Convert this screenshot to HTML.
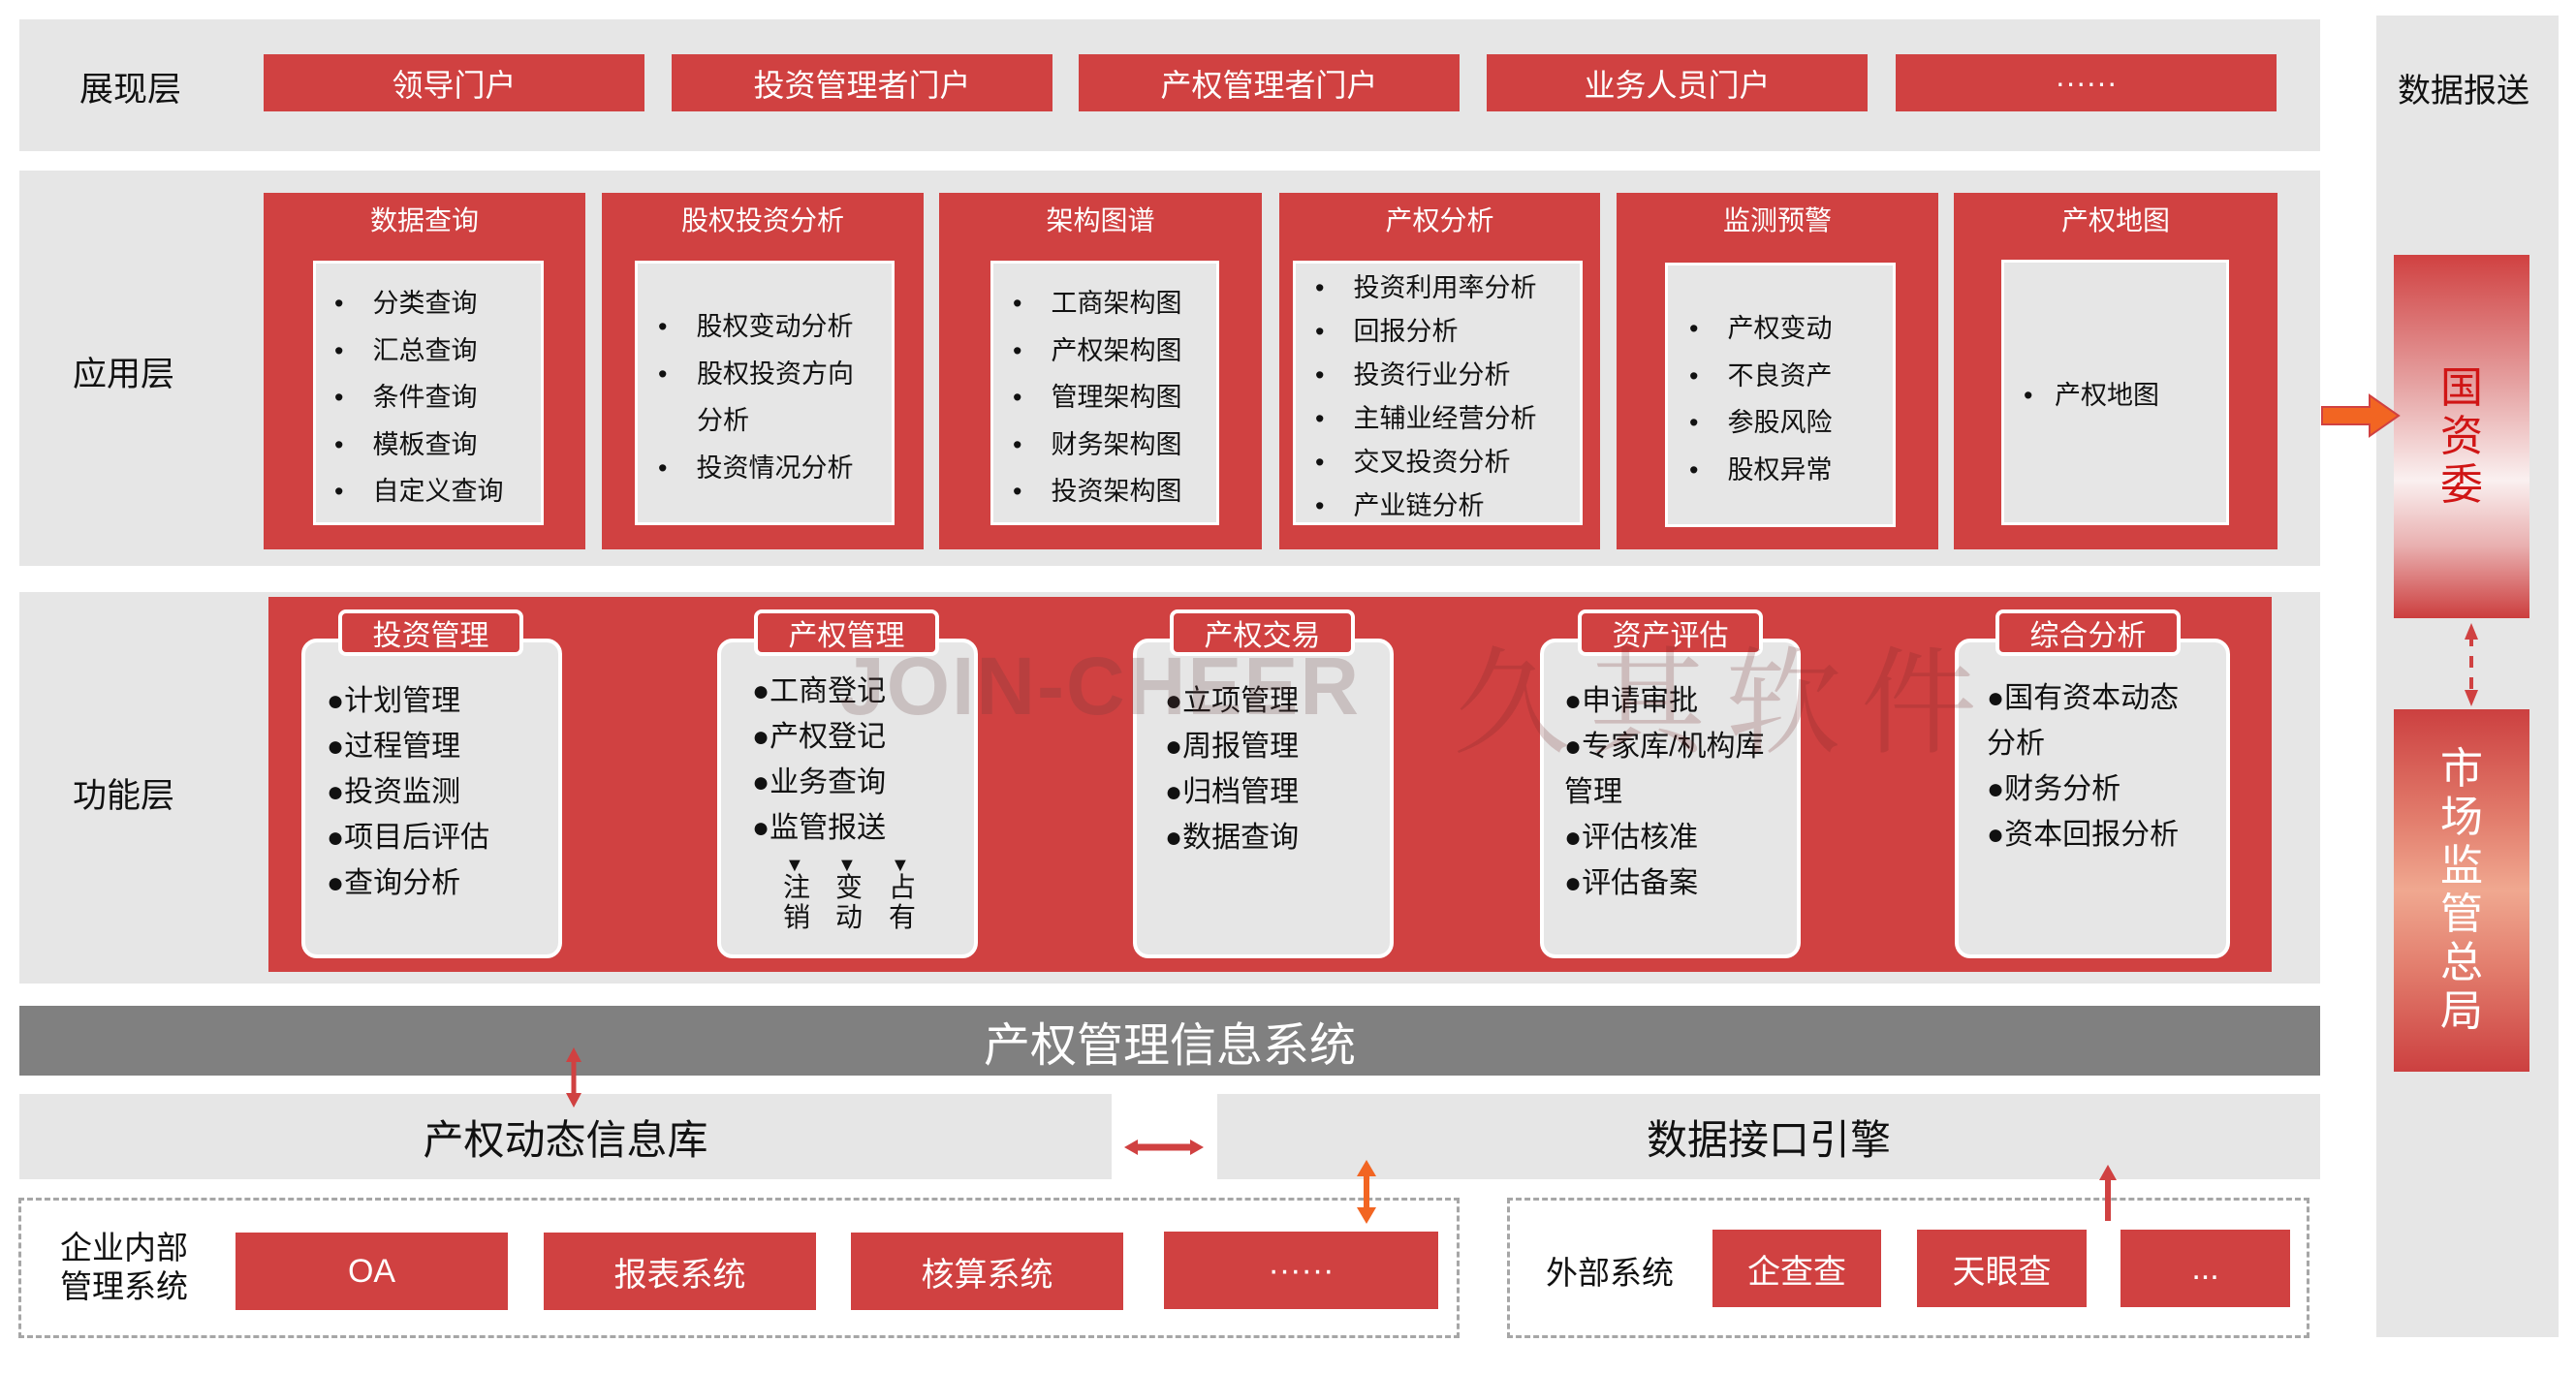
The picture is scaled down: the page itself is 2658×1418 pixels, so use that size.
<!DOCTYPE html>
<html><head><meta charset="utf-8">
<style>
*{margin:0;padding:0;box-sizing:border-box}
body{width:2658px;height:1418px;background:#fff;position:relative;overflow:hidden;font-family:"Liberation Sans","Noto Sans CJK SC",sans-serif;color:#111}
.a{position:absolute}
.g{background:#e6e6e6}
.r{background:#d04141}
.c{display:flex;align-items:center;justify-content:center}
.pt{color:#fff;font-size:32px;top:56px;height:59px;width:393px}
.lab{font-size:35px;color:#111}
.in{background:#e6e6e6;border:3px solid #fff}
.li{font-size:27px;line-height:48.5px;white-space:nowrap}
.li span{display:inline-block}
.card{background:#e6e6e6;border:4px solid #fff;border-radius:16px;top:659px;height:330px;width:269px}
.tab{background:#d04141;border:4px solid #fff;border-radius:8px;top:629px;height:48px;width:191px;color:#fff;font-size:30px}
.fi{font-size:30px;line-height:47px;white-space:nowrap;color:#111}
.sb{color:#fff;font-size:34px;height:80px}
</style></head><body>

<!-- 展现层 -->
<div class="a g" style="left:20px;top:20px;width:2374px;height:136px"></div>
<div class="a lab" style="left:82px;top:64px">展现层</div>
<div class="a r c pt" style="left:272px">领导门户</div>
<div class="a r c pt" style="left:693px">投资管理者门户</div>
<div class="a r c pt" style="left:1113px">产权管理者门户</div>
<div class="a r c pt" style="left:1534px">业务人员门户</div>
<div class="a r c pt" style="left:1956px">······</div>

<!-- 应用层 -->
<div class="a g" style="left:20px;top:176px;width:2374px;height:408px"></div>
<div class="a lab" style="left:75px;top:358px">应用层</div>

<div class="a r" style="left:272px;top:199px;width:332px;height:368px"></div>
<div class="a" style="left:272px;top:206px;width:332px;text-align:center;color:#fff;font-size:28px">数据查询</div>
<div class="a in" style="left:323px;top:269px;width:238px;height:273px"></div>
<div class="a li" style="left:345px;top:289px">•&nbsp;&nbsp;&nbsp;&nbsp;分类查询<br>•&nbsp;&nbsp;&nbsp;&nbsp;汇总查询<br>•&nbsp;&nbsp;&nbsp;&nbsp;条件查询<br>•&nbsp;&nbsp;&nbsp;&nbsp;模板查询<br>•&nbsp;&nbsp;&nbsp;&nbsp;自定义查询</div>

<div class="a r" style="left:621px;top:199px;width:332px;height:368px"></div>
<div class="a" style="left:621px;top:206px;width:332px;text-align:center;color:#fff;font-size:28px">股权投资分析</div>
<div class="a in" style="left:655px;top:269px;width:268px;height:273px"></div>
<div class="a li" style="left:679px;top:313px">•&nbsp;&nbsp;&nbsp;&nbsp;股权变动分析<br><span style="width:40px"></span>股权投资方向<br><span style="width:40px"></span>分析<br>•&nbsp;&nbsp;&nbsp;&nbsp;投资情况分析</div>
<div class="a li" style="left:679px;top:362px">•</div>

<div class="a r" style="left:969px;top:199px;width:333px;height:368px"></div>
<div class="a" style="left:969px;top:206px;width:333px;text-align:center;color:#fff;font-size:28px">架构图谱</div>
<div class="a in" style="left:1022px;top:269px;width:236px;height:273px"></div>
<div class="a li" style="left:1045px;top:289px">•&nbsp;&nbsp;&nbsp;&nbsp;工商架构图<br>•&nbsp;&nbsp;&nbsp;&nbsp;产权架构图<br>•&nbsp;&nbsp;&nbsp;&nbsp;管理架构图<br>•&nbsp;&nbsp;&nbsp;&nbsp;财务架构图<br>•&nbsp;&nbsp;&nbsp;&nbsp;投资架构图</div>

<div class="a r" style="left:1320px;top:199px;width:331px;height:368px"></div>
<div class="a" style="left:1320px;top:206px;width:331px;text-align:center;color:#fff;font-size:28px">产权分析</div>
<div class="a in" style="left:1334px;top:269px;width:299px;height:273px"></div>
<div class="a li" style="left:1357px;top:275px;line-height:45px">•&nbsp;&nbsp;&nbsp;&nbsp;投资利用率分析<br>•&nbsp;&nbsp;&nbsp;&nbsp;回报分析<br>•&nbsp;&nbsp;&nbsp;&nbsp;投资行业分析<br>•&nbsp;&nbsp;&nbsp;&nbsp;主辅业经营分析<br>•&nbsp;&nbsp;&nbsp;&nbsp;交叉投资分析<br>•&nbsp;&nbsp;&nbsp;&nbsp;产业链分析</div>

<div class="a r" style="left:1668px;top:199px;width:332px;height:368px"></div>
<div class="a" style="left:1668px;top:206px;width:332px;text-align:center;color:#fff;font-size:28px">监测预警</div>
<div class="a in" style="left:1718px;top:271px;width:238px;height:273px"></div>
<div class="a li" style="left:1743px;top:315px">•&nbsp;&nbsp;&nbsp;&nbsp;产权变动<br>•&nbsp;&nbsp;&nbsp;&nbsp;不良资产<br>•&nbsp;&nbsp;&nbsp;&nbsp;参股风险<br>•&nbsp;&nbsp;&nbsp;&nbsp;股权异常</div>

<div class="a r" style="left:2016px;top:199px;width:334px;height:368px"></div>
<div class="a" style="left:2016px;top:206px;width:334px;text-align:center;color:#fff;font-size:28px">产权地图</div>
<div class="a in" style="left:2065px;top:268px;width:235px;height:274px"></div>
<div class="a li" style="left:2088px;top:384px">•&nbsp;&nbsp;&nbsp;产权地图</div>

<!-- 功能层 -->
<div class="a g" style="left:20px;top:611px;width:2374px;height:404px"></div>
<div class="a lab" style="left:75px;top:793px">功能层</div>
<div class="a r" style="left:277px;top:616px;width:2067px;height:387px"></div>

<div class="a card" style="left:311px"></div>
<div class="a tab c" style="left:349px">投资管理</div>
<div class="a fi" style="left:337px;top:700px">●计划管理<br>●过程管理<br>●投资监测<br>●项目后评估<br>●查询分析</div>

<div class="a card" style="left:740px"></div>
<div class="a tab c" style="left:778px">产权管理</div>
<div class="a fi" style="left:776px;top:690px">●工商登记<br>●产权登记<br>●业务查询<br>●监管报送</div>
<div class="a" style="left:810px;top:882px;font-size:20px;line-height:22px">▼</div>
<div class="a" style="left:864px;top:882px;font-size:20px;line-height:22px">▼</div>
<div class="a" style="left:919px;top:882px;font-size:20px;line-height:22px">▼</div>
<div class="a fi" style="left:808px;top:900px;line-height:31px;font-size:28px">注<br>销</div>
<div class="a fi" style="left:862px;top:900px;line-height:31px;font-size:28px">变<br>动</div>
<div class="a fi" style="left:917px;top:900px;line-height:31px;font-size:28px">占<br>有</div>

<div class="a card" style="left:1169px"></div>
<div class="a tab c" style="left:1207px">产权交易</div>
<div class="a fi" style="left:1202px;top:700px">●立项管理<br>●周报管理<br>●归档管理<br>●数据查询</div>

<div class="a card" style="left:1589px"></div>
<div class="a tab c" style="left:1628px">资产评估</div>
<div class="a fi" style="left:1614px;top:700px">●申请审批<br>●专家库/机构库<br>管理<br>●评估核准<br>●评估备案</div>

<div class="a card" style="left:2017px;width:284px"></div>
<div class="a tab c" style="left:2059px">综合分析</div>
<div class="a fi" style="left:2050px;top:697px">●国有资本动态<br>分析<br>●财务分析<br>●资本回报分析</div>

<!-- watermark on top -->
<div class="a" style="left:866px;top:660px;font-size:84px;font-weight:bold;color:rgba(100,60,60,0.22);letter-spacing:2px;font-family:'Liberation Sans',sans-serif">JOIN-CHEER</div>
<div class="a" style="left:1500px;top:630px;font-size:120px;color:rgba(120,40,40,0.22);font-family:'Noto Serif CJK SC',serif;letter-spacing:20px">久其软件</div>

<!-- 信息系统 -->
<div class="a c" style="left:20px;top:1038px;width:2374px;height:72px;background:#808080;color:#fff;font-size:48px">产权管理信息系统</div>

<div class="a g c" style="left:20px;top:1129px;width:1127px;height:88px;font-size:42px">产权动态信息库</div>
<div class="a g c" style="left:1256px;top:1129px;width:1138px;height:88px;font-size:42px">数据接口引擎</div>

<!-- dashed boxes -->
<div class="a" style="left:19px;top:1236px;width:1487px;height:145px;border:3px dashed #a6a6a6"></div>
<div class="a" style="left:1555px;top:1236px;width:828px;height:145px;border:3px dashed #a6a6a6"></div>
<div class="a" style="left:62px;top:1268px;font-size:33px;line-height:40px">企业内部<br>管理系统</div>
<div class="a r c sb" style="left:243px;top:1272px;width:281px">OA</div>
<div class="a r c sb" style="left:561px;top:1272px;width:281px">报表系统</div>
<div class="a r c sb" style="left:878px;top:1272px;width:281px">核算系统</div>
<div class="a r c sb" style="left:1201px;top:1271px;width:283px">······</div>
<div class="a" style="left:1595px;top:1287px;font-size:33px">外部系统</div>
<div class="a r c sb" style="left:1767px;top:1269px;width:174px">企查查</div>
<div class="a r c sb" style="left:1978px;top:1269px;width:175px">天眼查</div>
<div class="a r c sb" style="left:2188px;top:1269px;width:175px">...</div>

<!-- right column -->
<div class="a g" style="left:2452px;top:16px;width:188px;height:1364px"></div>
<div class="a" style="left:2474px;top:66px;font-size:34px">数据报送</div>
<div class="a c" style="left:2470px;top:263px;width:140px;height:375px;background:linear-gradient(180deg,#d04141 0%,#e5a0a0 35%,#faf0f0 62%,#e9b0b0 80%,#cc3e3e 100%);color:#d01515;font-size:44px;line-height:50px;flex-direction:column">国<br>资<br>委</div>
<div class="a c" style="left:2470px;top:732px;width:140px;height:374px;background:linear-gradient(180deg,#cc4040 0%,#e27c6c 30%,#f0a890 50%,#e27c6c 72%,#cc4040 100%);color:#fff;font-size:44px;line-height:50px;flex-direction:column">市<br>场<br>监<br>管<br>总<br>局</div>

<svg class="a" style="left:0;top:0" width="2658" height="1418">
 <polygon points="2396,420 2445,420 2445,408 2475,429 2445,450 2445,438 2396,438" fill="#f26522" stroke="#d04141" stroke-width="2"/>
 <line x1="2550" y1="655" x2="2550" y2="715" stroke="#d04141" stroke-width="4" stroke-dasharray="12,10"/>
 <polygon points="2543,660 2550,643 2557,660" fill="#d04141"/>
 <polygon points="2543,712 2550,729 2557,712" fill="#d04141"/>
 <line x1="592" y1="1092" x2="592" y2="1132" stroke="#d04141" stroke-width="5"/>
 <polygon points="584,1096 592,1081 600,1096" fill="#d04141"/>
 <polygon points="584,1128 592,1143 600,1128" fill="#d04141"/>
 <line x1="1170" y1="1184" x2="1232" y2="1184" stroke="#d04141" stroke-width="7"/>
 <polygon points="1174,1176 1160,1184 1174,1192" fill="#d04141"/>
 <polygon points="1228,1176 1242,1184 1228,1192" fill="#d04141"/>
 <line x1="1410" y1="1212" x2="1410" y2="1248" stroke="#f26522" stroke-width="6"/>
 <polygon points="1400,1214 1410,1197 1420,1214" fill="#f26522"/>
 <polygon points="1400,1246 1410,1263 1420,1246" fill="#f26522"/>
 <line x1="2175" y1="1216" x2="2175" y2="1260" stroke="#d04141" stroke-width="6"/>
 <polygon points="2166,1218 2175,1202 2184,1218" fill="#d04141"/>
</svg>
</body></html>
